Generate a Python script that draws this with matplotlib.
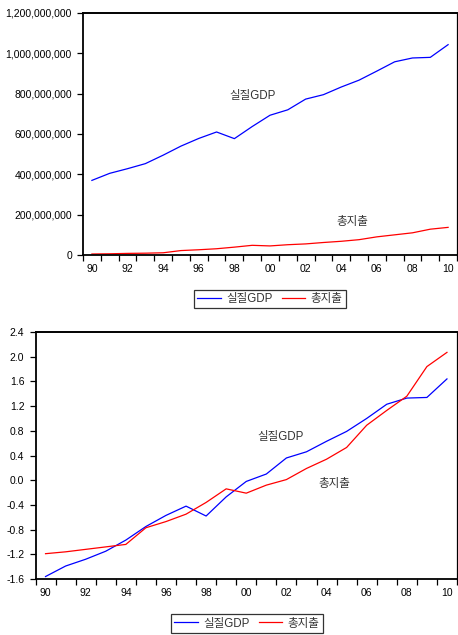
import matplotlib
matplotlib.use("Agg")
import matplotlib.pyplot as plt
from matplotlib.ticker import FuncFormatter, FixedLocator
from matplotlib.lines import Line2D

plt.rcParams['font.family'] = ['Liberation Sans', 'Noto Sans CJK KR', 'DejaVu Sans']

years = list(range(1990, 2011))

# Top chart: levels
gdp_level = [370e6, 405e6, 428e6, 453e6, 495e6, 540e6, 578e6, 610e6, 577e6, 637e6,
             693e6, 720e6, 773e6, 795e6, 833e6, 867e6, 912e6, 958e6, 977e6, 980e6, 1043e6]
spend_level = [5e6, 6e6, 8e6, 9e6, 11e6, 22e6, 26e6, 31e6, 39e6, 48e6,
               45e6, 51e6, 55e6, 62e6, 68e6, 76e6, 90e6, 100e6, 110e6, 128e6, 137e6]

# Bottom chart: standardized
gdp_std = [-1.56, -1.39, -1.28, -1.15, -0.97, -0.75, -0.57, -0.42, -0.58, -0.27,
           -0.02, 0.10, 0.36, 0.46, 0.63, 0.79, 1.00, 1.23, 1.33, 1.34, 1.64]
spend_std = [-1.19, -1.16, -1.12, -1.08, -1.04, -0.77, -0.67, -0.55, -0.36, -0.14,
             -0.21, -0.08, 0.01, 0.19, 0.34, 0.53, 0.89, 1.13, 1.36, 1.84, 2.07]

series_names = ['실질GDP', '총지출']
top_yticks = [0, 200e6, 400e6, 600e6, 800e6, 1000e6, 1200e6]
bottom_yticks = [-1.6, -1.2, -0.8, -0.4, 0.0, 0.4, 0.8, 1.2, 1.6, 2.0, 2.4]
xlabel_years = list(range(1990, 2011, 2))

W, H = 458, 635
fig = plt.figure(figsize=(W / 100, H / 100), dpi=100)

FS = 7.5
FS_TXT = 8.3
TXT = '#333333'


def make_axes(l, r, t, b):
    return fig.add_axes([l / W, 1 - b / H, (r - l) / W, (b - t) / H])


def style_axes(ax):
    ax.set_xlim(1989.5, 2010.5)
    for s in ax.spines.values():
        s.set_color('black')
        s.set_linewidth(0.9)
    ax.spines['top'].set_linewidth(1.4)
    ax.spines['left'].set_linewidth(1.3)
    ax.spines['bottom'].set_linewidth(1.3)
    ax.xaxis.set_major_locator(FixedLocator([y - 0.5 for y in years] + [2010.5]))
    ax.xaxis.set_minor_locator(FixedLocator(xlabel_years))
    ax.tick_params(axis='x', which='major', direction='out', length=4, width=0.9,
                   labelbottom=False, colors='black')
    ax.tick_params(axis='x', which='minor', length=0, labelsize=FS, pad=6.5,
                   labelcolor='black')
    ax.set_xticklabels([f"{y % 100:02d}" for y in xlabel_years], minor=True)
    ax.tick_params(axis='y', direction='out', length=4, width=0.9, labelsize=FS,
                   pad=4, labelcolor='black')


def add_legend(cx, cy):
    handles = [Line2D([], [], color='#0000ff', lw=0.9),
               Line2D([], [], color='#ff0000', lw=0.9)]
    leg = fig.legend(handles, series_names, loc='center', bbox_to_anchor=(cx / W, 1 - cy / H),
                     ncol=2, fontsize=FS_TXT, frameon=True, fancybox=False, edgecolor='black',
                     handlelength=2.0, handletextpad=0.5, columnspacing=0.8,
                     borderpad=0.3, borderaxespad=0)
    leg.get_frame().set_linewidth(0.9)
    for t in leg.get_texts():
        t.set_color(TXT)


# Top chart
ax1 = make_axes(83, 457, 13, 255)
ax1.plot(years, gdp_level, color='#0000ff', lw=0.9)
ax1.plot(years, spend_level, color='#ff0000', lw=0.9)
ax1.set_ylim(0, 1.2e9)
ax1.set_yticks(top_yticks)
ax1.yaxis.set_major_formatter(FuncFormatter(lambda v, p: f"{int(round(v)):,}"))
style_axes(ax1)
ax1.text(1999.0, 790e6, series_names[0], fontsize=FS_TXT, color=TXT, ha='center', va='center')
ax1.text(2004.6, 162e6, series_names[1], fontsize=FS_TXT, color=TXT, ha='center', va='center')
add_legend(270, 299)

# Bottom chart
ax2 = make_axes(35.5, 457, 332, 579)
ax2.plot(years, gdp_std, color='#0000ff', lw=0.9)
ax2.plot(years, spend_std, color='#ff0000', lw=0.9)
ax2.set_ylim(-1.6, 2.4)
ax2.set_yticks(bottom_yticks)
ax2.yaxis.set_major_formatter(FuncFormatter(lambda v, p: f"{v:.1f}"))
style_axes(ax2)
ax2.text(2001.7, 0.70, series_names[0], fontsize=FS_TXT, color=TXT, ha='center', va='center')
ax2.text(2004.4, -0.06, series_names[1], fontsize=FS_TXT, color=TXT, ha='center', va='center')
add_legend(247, 623.5)

fig.savefig('out.png', dpi=100, facecolor='white')
